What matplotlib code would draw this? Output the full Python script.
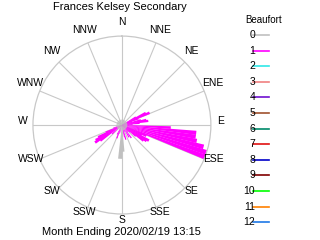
import numpy as np
import matplotlib
matplotlib.use("Agg")
import matplotlib.pyplot as plt
from matplotlib.lines import Line2D
from matplotlib.transforms import offset_copy

# ---- data ----
title = "Frances Kelsey Secondary"
footer = "Month Ending 2020/02/19 13:15"
compass = ["N", "NNE", "NE", "ENE", "E", "ESE", "SE", "SSE",
           "S", "SSW", "SW", "WSW", "W", "WNW", "NW", "NNW"]
beaufort_levels = ["0", "1", "2", "3", "4", "5", "6", "7", "8", "9", "10", "11", "12"]
beaufort_colors = ["#c0c0c0", "#ff00ff", "#30e8e8", "#f08080", "#7010d0", "#a0522d",
                   "#008a6a", "#e01010", "#0000c8", "#800000", "#00ff00", "#ff8000", "#1e78e6"]

# Beaufort 1 (magenta) : direction (deg) and relative frequency (fraction of outer ring)
b1_dir = [60, 63, 66, 69, 72, 75, 78, 81, 84, 87, 90,
          93, 96, 99, 102, 105, 108, 111,
          114, 117, 120, 123, 126, 129, 132, 138, 144, 150, 156,
          165, 168, 195, 201, 207, 228, 234, 237, 240, 243, 246, 252]
b1_val = [0.18, 0.30, 0.34, 0.20, 0.12, 0.22, 0.28, 0.30, 0.20, 0.12, 0.08,
          0.55, 0.84, 0.84, 0.86, 0.95, 1.00, 1.00,
          0.30, 0.25, 0.35, 0.33, 0.30, 0.20, 0.12, 0.10, 0.18, 0.16, 0.08,
          0.17, 0.14, 0.10, 0.16, 0.12, 0.15, 0.30, 0.36, 0.34, 0.30, 0.20, 0.10]
# Beaufort 0 (grey)
b0_dir = [178, 183]
b0_val = [0.30, 0.38]
calm = 0.06

# ---- figure ----
fig = plt.figure(figsize=(3.2, 2.4), dpi=100)
ax = fig.add_axes([0.103, 0.108, 0.556, 0.742], projection="polar")
ax.set_theta_zero_location("N")
ax.set_theta_direction(-1)
ax.set_ylim(0, 1.0)
ax.grid(False)
ax.set_xticks([])
ax.set_yticks([])
ax.spines["polar"].set_color("#c8c8c8")
ax.spines["polar"].set_linewidth(0.9)

grid_col = "#c8c8c8"
lab_tr = offset_copy(ax.transData, fig=fig, x=0, y=4, units="dots")
for i in range(16):
    th = np.deg2rad(i * 22.5)
    ax.plot([th, th], [0, 1.0], color=grid_col, lw=0.8, zorder=1)
    ax.text(th, 1.11, compass[i], ha="center", va="center", fontsize=7.5,
            family="Liberation Sans", clip_on=False, transform=lab_tr)

widths = np.deg2rad([3.2 if v > 0.5 else 5.0 for v in b1_val])
ax.bar(np.deg2rad(b1_dir), b1_val, width=widths, bottom=0,
       color=beaufort_colors[1], edgecolor="none", zorder=2, align="center")
ax.bar(np.deg2rad(b0_dir), b0_val, width=np.deg2rad(7), bottom=0,
       color=beaufort_colors[0], edgecolor="none", zorder=2, align="center")
ax.bar(np.linspace(0, 2 * np.pi, 64, endpoint=False), [calm] * 64,
       width=2 * np.pi / 64 + 0.01, color=beaufort_colors[0], edgecolor="none", zorder=3)

fig.text(0.375, 0.97, title, ha="center", va="center", fontsize=8, family="Liberation Sans")
fig.text(0.381, 0.032, footer, ha="center", va="center", fontsize=8, family="Liberation Sans")

# legend
fig.text(0.825, 0.915, "Beaufort", ha="center", va="center", fontsize=7, family="Liberation Sans")
for i, (lab, col) in enumerate(zip(beaufort_levels, beaufort_colors)):
    y = 1 - (35 + i * 15.6) / 240
    fig.add_artist(Line2D([253 / 320, 269 / 320], [y, y], color=col, lw=1.2,
                          transform=fig.transFigure))
    fig.text(255 / 320, y, lab, ha="right", va="center", fontsize=7.5, family="Liberation Sans")

fig.savefig("out.png", dpi=100)
